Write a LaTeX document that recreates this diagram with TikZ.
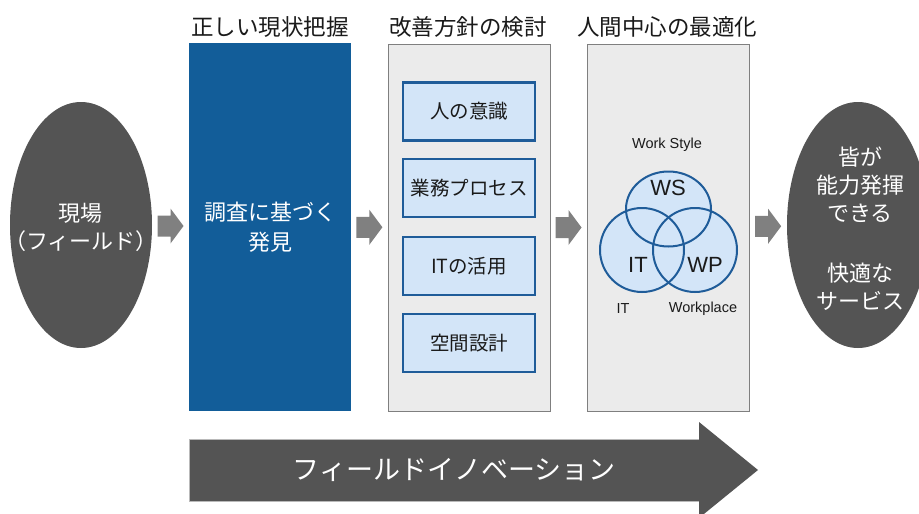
\documentclass[tikz,border=0pt]{standalone}
\usepackage{fontspec}
\setmainfont{Liberation Sans}
\newfontfamily\jp{Noto Sans CJK JP}
\usetikzlibrary{shapes.geometric,calc}
\definecolor{dark}{HTML}{545454}
\definecolor{bluebox}{HTML}{125D99}
\definecolor{panel}{HTML}{EBEBEB}
\definecolor{panelline}{HTML}{7F7F7F}
\definecolor{lightblue}{HTML}{D3E5F8}
\definecolor{boxline}{HTML}{1F5C99}
\definecolor{arrowgray}{HTML}{808080}
\definecolor{txt}{HTML}{1A1A1A}
\tikzset{
  oval/.style={ellipse, fill=dark, draw=none, minimum width=142pt, minimum height=246pt, inner sep=0pt},
  ovaltext/.style={text=white, align=center, inner sep=0pt, font=\jp\fontsize{22}{28}\selectfont},
  title/.style={text=txt, font=\jp\fontsize{22.5}{26}\selectfont, inner sep=0pt},
  panelbox/.style={rectangle, fill=panel, draw=panelline, line width=0.9pt, minimum width=162pt, minimum height=367pt, inner sep=0pt},
  itembox/.style={rectangle, fill=lightblue, draw=boxline, line width=2.4pt, minimum width=132pt, minimum height=58pt,
    inner sep=0pt, text=txt, font=\jp\fontsize{19.5}{24}\selectfont},
  venn/.style={draw=boxline, line width=2pt},
  vlabel/.style={text=txt, inner sep=0pt, font=\fontsize{22}{26}\selectfont},
  slabel/.style={text=txt, inner sep=0pt, font=\fontsize{14.5}{17}\selectfont},
  blockarr/.pic={\fill[arrowgray] (-13,-10.5) -- (0,-10.5) -- (0,-17.5) -- (13,0) -- (0,17.5) -- (0,10.5) -- (-13,10.5) -- cycle;}
}
\begin{document}
\begin{tikzpicture}[x=1pt,y=-1pt]
\useasboundingbox (0,0) rectangle (919,514);
\fill[white] (0,0) rectangle (919,514);

% titles
\node[title] (t1) at (270,27) {正しい現状把握};
\node[title] (t2) at (468,27) {改善方針の検討};
\node[title] (t3) at (667,27) {人間中心の最適化};

% left field ellipse
\node[oval] (field) at (81,225) {};
\node[ovaltext] (fieldtxt) at (81,227) {現場\\（フィールド）};

% blue box
\node[rectangle, fill=bluebox, minimum width=162pt, minimum height=368pt, inner sep=0pt,
  text=white, align=center, font=\jp\fontsize{22}{30}\selectfont] (survey) at (270,227) {調査に基づく\\発見};

% panel 2
\node[panelbox] (panelA) at (469,227.5) {};
\node[itembox] (b1) at (469,111.5) {人の意識};
\node[itembox] (b2) at (469,188) {業務プロセス};
\node[itembox] (b3) at (469,266) {ITの活用};
\node[itembox] (b4) at (469,343) {空間設計};

% panel 3
\node[panelbox] (panelB) at (668,227.5) {};
\fill[lightblue] (668.5,209) ellipse [x radius=42.5, y radius=37.5];
\fill[lightblue] (642,250) circle [radius=42];
\fill[lightblue] (695,250) circle [radius=42];
\draw[venn] (668.5,209) ellipse [x radius=42.5, y radius=37.5];
\draw[venn] (642,250) circle [radius=42];
\draw[venn] (695,250) circle [radius=42];
\node[slabel] (lws) at (667,145) {Work Style};
\node[vlabel] (ws) at (668,188) {WS};
\node[vlabel] (it) at (638,265) {IT};
\node[vlabel] (wp) at (705,265) {WP};
\node[slabel] (lit) at (623,309) {IT};
\node[slabel] (lwp) at (703,309) {Workplace};

% right ellipse
\node[oval] (result) at (858,225) {};
\node[ovaltext] (resulttxt) at (860,229) {皆が\\能力発揮\\できる\\[32pt]快適な\\サービス};

% block arrows
\pic at ($(field.east)!0.5!(survey.west)$) {blockarr};
\pic at ($(survey.east)!0.5!(panelA.west)$) {blockarr};
\pic at ($(panelA.east)!0.5!(panelB.west)$) {blockarr};
\pic at ($(panelB.east)!0.5!(result.west)$) {blockarr};

% big arrow
\fill[dark] (189,439) -- (699,439) -- (699,422) -- (758,470) -- (699,518) -- (699,501) -- (189,501) -- cycle;
\draw[gray!55, line width=0.7pt] (699,439) -- (189,439) -- (189,501) -- (699,501);
\node[text=white, inner sep=0pt, font=\jp\fontsize{27}{30}\selectfont] (innov) at (454,470) {フィールドイノベーション};
\end{tikzpicture}
\end{document}
